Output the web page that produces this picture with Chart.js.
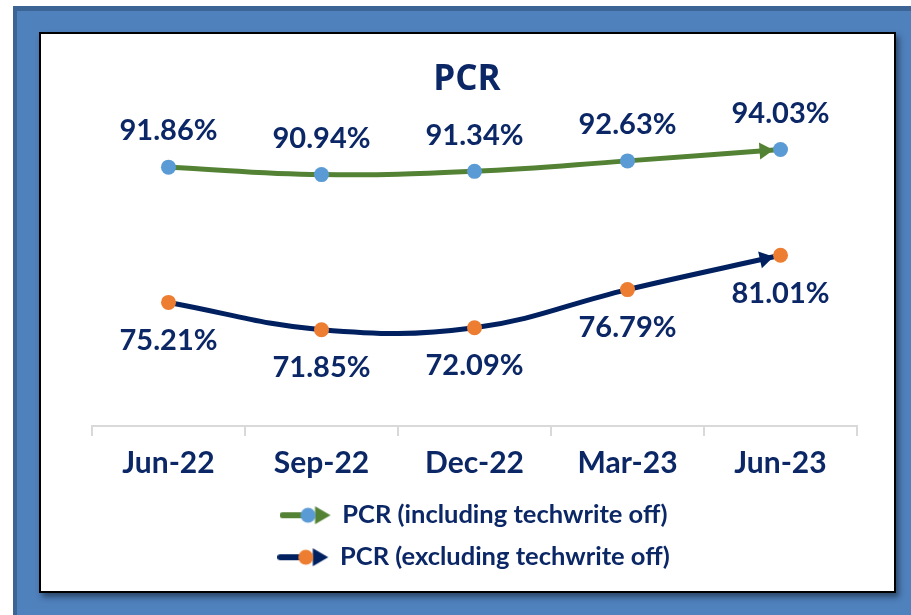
<!DOCTYPE html>
<html>
<head>
<meta charset="utf-8">
<script src="https://cdn.jsdelivr.net/npm/chart.js@4.4.0/dist/chart.umd.min.js"></script>
<style>
  html, body { margin: 0; padding: 0; background: #fff; }
  body { width: 911px; height: 615px; position: relative; overflow: hidden; }
  #frame {
    position: absolute; left: 13px; top: 6px; width: 898px; height: 609px;
    background: #4F81BD; border-left: 4px solid #3C6494; border-top: 5px solid #3C6494;
    box-sizing: border-box;
  }
  #box {
    position: absolute; left: 39px; top: 32px; width: 853px; height: 557px;
    border: 2px solid #000; background: #fff;
    box-shadow: 3px 4px 6px rgba(0, 0, 0, 0.45);
  }
  canvas { display: block; }
</style>
</head>
<body>
<div id="frame"></div>
<div id="box"><canvas id="pcr-chart" width="853" height="557"></canvas></div>
<script>
// Dados do gráfico
var categories = ['Jun-22', 'Sep-22', 'Dec-22', 'Mar-23', 'Jun-23']
var pcrIncluding = [91.86, 90.94, 91.34, 92.63, 94.03]
var pcrExcluding = [75.21, 71.85, 72.09, 76.79, 81.01]
var seriesNames = ['PCR (including techwrite off)', 'PCR (excluding techwrite off)']

// Cores
var colorGreen = '#548235'
var colorNavy = '#002060'
var colorBlueDot = '#5B9BD5'
var colorOrangeDot = '#ED7D31'
var colorText = '#0B2766'

Chart.defaults.font.family = 'Lato'

// Marcador da legenda: linha + ponto + seta
function legendMarker(lineColor, dotColor) {
  var c = document.createElement('canvas')
  c.width = 52
  c.height = 20
  var ctx = c.getContext('2d')
  ctx.strokeStyle = lineColor
  ctx.lineWidth = 6
  ctx.lineCap = 'round'
  ctx.beginPath()
  ctx.moveTo(3, 10)
  ctx.lineTo(30, 10)
  ctx.stroke()
  ctx.fillStyle = lineColor
  ctx.beginPath()
  ctx.moveTo(35.5, 1)
  ctx.lineTo(51, 10)
  ctx.lineTo(35.5, 19)
  ctx.closePath()
  ctx.fill()
  ctx.fillStyle = dotColor
  ctx.beginPath()
  ctx.arc(28.5, 10, 7.5, 0, Math.PI * 2)
  ctx.fill()
  return c
}
var markers = [legendMarker(colorGreen, colorBlueDot), legendMarker(colorNavy, colorOrangeDot)]

// Seta no fim de cada linha
var arrowHeads = {
  id: 'arrowHeads',
  afterDatasetDraw: function (chart, args, opts) {
    var pts = args.meta.data
    var last = pts[pts.length - 1]
    var dx = last.x - last.cp1x
    var dy = last.y - last.cp1y
    var len = Math.sqrt(dx * dx + dy * dy) || 1
    var ux = dx / len, uy = dy / len
    var tipX = last.x - ux * opts.gap, tipY = last.y - uy * opts.gap
    var baseX = tipX - ux * opts.length, baseY = tipY - uy * opts.length
    var ctx = chart.ctx
    ctx.save()
    ctx.fillStyle = chart.data.datasets[args.index].borderColor
    ctx.beginPath()
    ctx.moveTo(tipX, tipY)
    ctx.lineTo(baseX - uy * opts.half, baseY + ux * opts.half)
    ctx.lineTo(baseX + uy * opts.half, baseY - ux * opts.half)
    ctx.closePath()
    ctx.fill()
    ctx.restore()
  }
}

// Rótulos de valor
var valueLabels = {
  id: 'valueLabels',
  afterDatasetsDraw: function (chart, args, opts) {
    var ctx = chart.ctx
    ctx.save()
    ctx.font = 'bold ' + opts.size + 'px Lato'
    ctx.fillStyle = opts.color
    ctx.textAlign = 'center'
    ctx.textBaseline = 'middle'
    chart.data.datasets.forEach(function (ds, i) {
      var meta = chart.getDatasetMeta(i)
      meta.data.forEach(function (pt, j) {
        ctx.fillText(ds.data[j].toFixed(2) + '%', pt.x, pt.y + opts.offsets[i])
      })
    })
    ctx.restore()
  }
}

window.onload = function () {
  var el = document.getElementById('pcr-chart')
  new Chart(el, {
    type: 'line',
    data: {
      labels: categories,
      datasets: [{
        label: seriesNames[0],
        data: pcrIncluding,
        borderColor: colorGreen,
        borderWidth: 5,
        tension: 0.4,
        pointRadius: 7.5,
        pointBorderWidth: 0,
        pointBackgroundColor: colorBlueDot
      }, {
        label: seriesNames[1],
        data: pcrExcluding,
        borderColor: colorNavy,
        borderWidth: 5,
        tension: 0.4,
        pointRadius: 7.5,
        pointBorderWidth: 0,
        pointBackgroundColor: colorOrangeDot
      }]
    },
    options: {
      responsive: false,
      animation: false,
      layout: { padding: { top: 0, left: 36, right: 37, bottom: 11 } },
      scales: {
        x: {
          offset: true,
          grid: { offset: true, drawOnChartArea: false, drawTicks: true, tickLength: 10, color: '#D9D9D9', lineWidth: 2 },
          border: { display: true, color: '#D9D9D9', width: 2 },
          ticks: { color: colorText, font: { size: 30, weight: 'bold' }, padding: 9 },
          afterFit: function (scale) { scale.height = 60 }
        },
        y: {
          display: true,
          min: 60,
          max: 100,
          grid: { display: false },
          border: { display: false },
          ticks: { display: false },
          afterFit: function (scale) { scale.width = 15 }
        }
      },
      plugins: {
        title: {
          display: true,
          text: 'PCR',
          color: colorText,
          font: { family: 'Open Sans', size: 35, weight: 'bold' },
          padding: { top: 25, bottom: 0 }
        },
        legend: {
          position: 'bottom',
          fullSize: false,
          labels: {
            usePointStyle: true,
            pointStyleWidth: 48,
            color: colorText,
            font: { size: 25.5, weight: 'bold' },
            padding: 16.5,
            generateLabels: function (chart) {
              var items = Chart.defaults.plugins.legend.labels.generateLabels(chart)
              items.forEach(function (item, i) { item.pointStyle = markers[i] })
              return items
            }
          }
        },
        tooltip: { enabled: false },
        arrowHeads: { gap: 7, length: 14, half: 8.5 },
        valueLabels: { size: 29, color: colorText, offsets: [-36, 38] }
      }
    },
    plugins: [arrowHeads, valueLabels]
  })
}
</script>
</body>
</html>
